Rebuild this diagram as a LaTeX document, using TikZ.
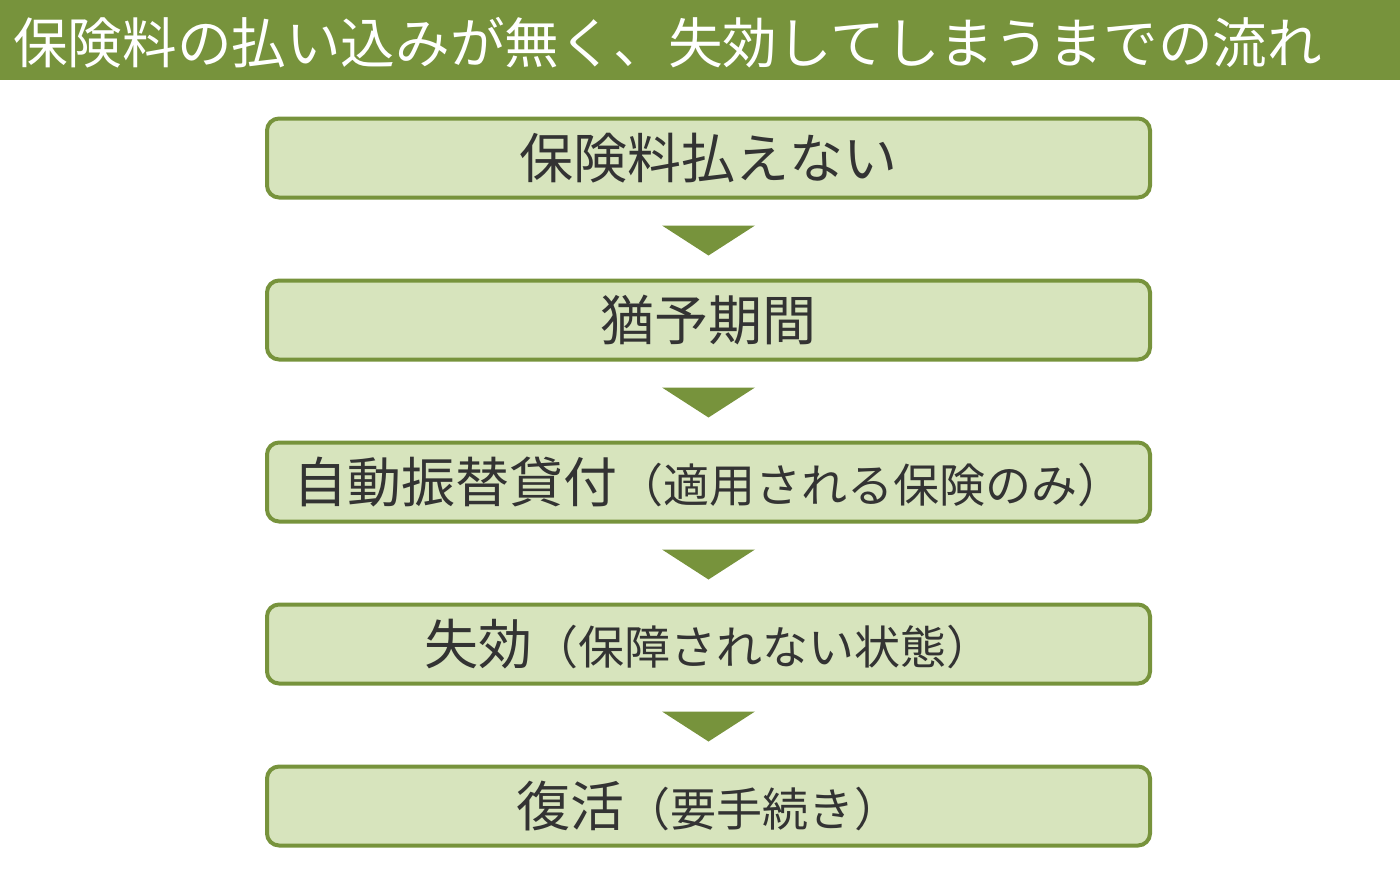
\documentclass[tikz,border=0pt]{standalone}
\usepackage{fontspec}
\newfontfamily\jpfont{Noto Sans CJK JP}
\usetikzlibrary{calc}
\definecolor{bargreen}{HTML}{77933C}
\definecolor{boxfill}{HTML}{D7E4BD}
\definecolor{txt}{HTML}{333333}
\tikzset{
  flowbox/.style={draw=bargreen, fill=boxfill, line width=4pt, rounded corners=12pt,
    minimum width=883pt, minimum height=79pt, inner sep=0pt, text=txt,
    font=\jpfont\fontsize{54pt}{60pt}\selectfont},
}
\newcommand{\smalljp}{\fontsize{46pt}{52pt}\selectfont}
\begin{document}
\begin{tikzpicture}[x=1pt,y=-1pt]
\useasboundingbox (0,0) rectangle (1400,875);
\fill[bargreen] (0,0) rectangle (1400,80);
\node[anchor=west, text=white, inner sep=0pt, font=\jpfont\fontsize{54.6pt}{60pt}\selectfont] (title) at (13,43)
  {保険料の払い込みが無く、失効してしまうまでの流れ};
\node[flowbox] (b1) at (708.5,158) {保険料払えない};
\node[flowbox] (b2) at (708.5,320) {猶予期間};
\node[flowbox] (b3) at (708.5,482) {自動振替貸付{\smalljp（適用される保険のみ）}};
\node[flowbox] (b4) at (708.5,644) {失効{\smalljp（保障されない状態）}};
\node[flowbox] (b5) at (708.5,806) {復活{\smalljp（要手続き）}};
\foreach \a/\b in {b1/b2,b2/b3,b3/b4,b4/b5}{
  \fill[bargreen] ($(\a.south)+(-46.5,26)$) -- ($(\a.south)+(46.5,26)$) -- ($(\a.south)+(0,56)$) -- cycle;
}
\end{tikzpicture}
\end{document}
